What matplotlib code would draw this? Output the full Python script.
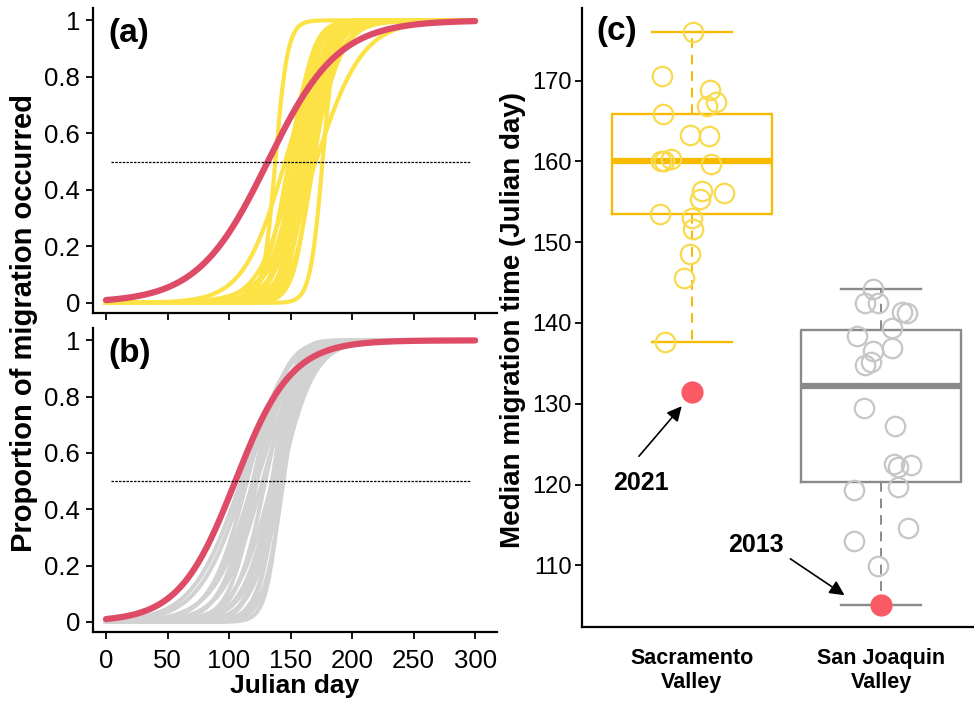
import numpy as np
import matplotlib
matplotlib.use("Agg")
import matplotlib.pyplot as plt

plt.rcParams["font.family"] = ["Liberation Sans", "DejaVu Sans"]

# Median migration day per year (panel c)
sac_median = [176.0, 170.6, 168.9, 167.4, 166.9, 165.9, 163.3, 163.2, 160.3, 160.1, 160.0,
              159.7, 156.4, 156.1, 155.3, 153.5, 153.0, 151.6, 148.6, 145.6, 137.6]
sac_jitter = [0.005, -0.157, 0.097, 0.129, 0.081, -0.151, -0.011, 0.091, -0.108, -0.145, -0.161,
              0.102, 0.054, 0.167, 0.043, -0.167, 0.0, 0.005, -0.011, -0.043, -0.14]
# spread (days) of each year's cumulative migration curve in panel (a)
sac_spread = [5, 19, 9, 12, 7, 10, 8, 13, 9, 6, 11, 8, 10, 7, 12, 9, 14, 8, 10, 17, 5]

sj_median = [144.2, 142.5, 142.5, 141.4, 141.2, 139.4, 138.4, 136.95, 136.5, 135.2, 134.8,
             129.5, 127.25, 122.6, 122.2, 122.4, 119.3, 119.65, 114.6, 113.0, 109.9]
sj_jitter = [-0.043, -0.086, -0.016, 0.111, 0.138, 0.058, -0.129, 0.058, -0.043, -0.054, -0.086,
             -0.091, 0.072, 0.065, 0.091, 0.156, -0.145, 0.09, 0.14, -0.145, -0.016]
sj_spread = [8, 12, 6, 14, 9, 11, 7, 13, 10, 15, 9, 12, 16, 11, 14, 18, 13, 17, 15, 19, 20]

# highlighted years
year_2021 = 131.5   # Sacramento
spread_2021 = 28.5
year_2013 = 105.1   # San Joaquin
spread_2013 = 22.8

groups = ["Sacramento\nValley", "San Joaquin\nValley"]

YELLOW_LINE = "#FCE244"
YELLOW_PT = "#F9D94E"
YELLOW_BOX = "#F7BA00"
GRAY_LINE = "#D2D2D2"
GRAY_PT = "#C6C6C6"
GRAY_BOX = "#8A8A8A"
RED_LINE = "#DD4B66"
RED_PT = "#FA5A64"

days = np.linspace(0, 300, 601)


def cum_curve(mid, spread):
    return 1.0 / (1.0 + np.exp(-(days - mid) / spread))


fig = plt.figure(figsize=(9.74, 7.07), dpi=100)
ax_a = fig.add_axes([0.0952, 0.5569, 0.4148, 0.4315])
ax_b = fig.add_axes([0.0952, 0.1057, 0.4148, 0.4300])
ax_c = fig.add_axes([0.5972, 0.1136, 0.4100, 0.8751])


def style_curve_axes(ax, show_xlabels):
    ax.set_xlim(-10.8, 317.6)
    ax.set_ylim(-0.037, 1.043)
    ax.set_xticks([0, 50, 100, 150, 200, 250, 300])
    ax.set_yticks([0, 0.2, 0.4, 0.6, 0.8, 1])
    ax.set_yticklabels(["0", "0.2", "0.4", "0.6", "0.8", "1"])
    if not show_xlabels:
        ax.set_xticklabels([])
    for s in ["top", "right"]:
        ax.spines[s].set_visible(False)
    for s in ["left", "bottom"]:
        ax.spines[s].set_linewidth(1.6)
    ax.tick_params(direction="out", length=5, width=1.3, labelsize=18.5, pad=4)
    ax.tick_params(axis="x", pad=7)
    ax.hlines(0.5, 4, 296, colors="black", linestyles=(0, (2, 1)), linewidth=0.9, zorder=4)


# (a) Sacramento
for m, s in zip(sac_median, sac_spread):
    ax_a.plot(days, cum_curve(m, s), color=YELLOW_LINE, lw=3, zorder=2)
ax_a.plot(days, cum_curve(year_2021, spread_2021), color=RED_LINE, lw=4.5,
          solid_capstyle="round", zorder=3)
style_curve_axes(ax_a, False)
ax_a.text(2, 0.955, "(a)", fontsize=24, fontweight="bold", va="center", ha="left")

# (b) San Joaquin
for m, s in zip(sj_median, sj_spread):
    ax_b.plot(days, cum_curve(m, s), color=GRAY_LINE, lw=3, zorder=2)
ax_b.plot(days, cum_curve(year_2013, spread_2013), color=RED_LINE, lw=4.5,
          solid_capstyle="round", zorder=3)
style_curve_axes(ax_b, True)
ax_b.text(2, 0.955, "(b)", fontsize=24, fontweight="bold", va="center", ha="left")
ax_b.set_xlabel("Julian day", fontsize=19, fontweight="bold", labelpad=1)

fig.text(0.025, 1 - 323 / 707, "Proportion of migration occurred", rotation=90,
         fontsize=21, fontweight="bold", ha="center", va="center")

# (c) box plots
sj_all = sj_median + [year_2013]
for pos, vals, box_c, pt_c, jit in [(1, sac_median, YELLOW_BOX, YELLOW_PT, sac_jitter),
                                     (2, sj_all, GRAY_BOX, GRAY_PT, sj_jitter)]:
    ax_c.boxplot([vals], positions=[pos], widths=0.846, whis=(0, 100),
                 showfliers=False, patch_artist=False,
                 boxprops=dict(color=box_c, linewidth=1.7),
                 whiskerprops=dict(color=box_c, linewidth=1.4, linestyle=(0, (5, 3.5))),
                 capprops=dict(color=box_c, linewidth=1.7),
                 medianprops=dict(color=box_c, linewidth=4.5),
                 capwidths=0.425)
    ax_c.plot(pos + np.array(jit), vals[:len(jit)], "o", ms=14, mfc="none",
              mec=pt_c, mew=1.6, zorder=3)

ax_c.plot([1], [year_2021], "o", ms=16, color=RED_PT, mec="none", zorder=4)
ax_c.plot([2], [year_2013], "o", ms=16, color=RED_PT, mec="none", zorder=4)

arrow_kw = dict(arrowstyle="-|>", color="black", lw=1.2, mutation_scale=22,
                shrinkA=0, shrinkB=0)
ax_c.annotate("", xy=(0.946, 129.7), xytext=(0.72, 123.5), arrowprops=arrow_kw)
ax_c.text(0.731, 120.2, "2021", fontsize=18, fontweight="bold", ha="center", va="center")
ax_c.annotate("", xy=(1.806, 106.3), xytext=(1.52, 110.8), arrowprops=arrow_kw)
ax_c.text(1.339, 112.5, "2013", fontsize=18, fontweight="bold", ha="center", va="center")

ax_c.set_xlim(0.4177, 2.527)
ax_c.set_ylim(102.4, 179.0)
ax_c.set_yticks([110, 120, 130, 140, 150, 160, 170])
ax_c.set_xticks([1, 2])
ax_c.set_xticklabels(groups, fontsize=15.5, fontweight="bold", linespacing=1.2)
ax_c.tick_params(axis="x", length=0, pad=15)
ax_c.tick_params(axis="y", direction="out", length=5, width=1.3, labelsize=17, pad=2)
for s in ["top", "right"]:
    ax_c.spines[s].set_visible(False)
for s in ["left", "bottom"]:
    ax_c.spines[s].set_linewidth(1.6)
ax_c.text(0.495, 176.1, "(c)", fontsize=24, fontweight="bold", va="center", ha="left")

fig.text(513 / 974, 1 - 320 / 707, "Median migration time (Julian day)", rotation=90,
         fontsize=20, fontweight="bold", ha="center", va="center")

fig.savefig("out.png", dpi=100)
